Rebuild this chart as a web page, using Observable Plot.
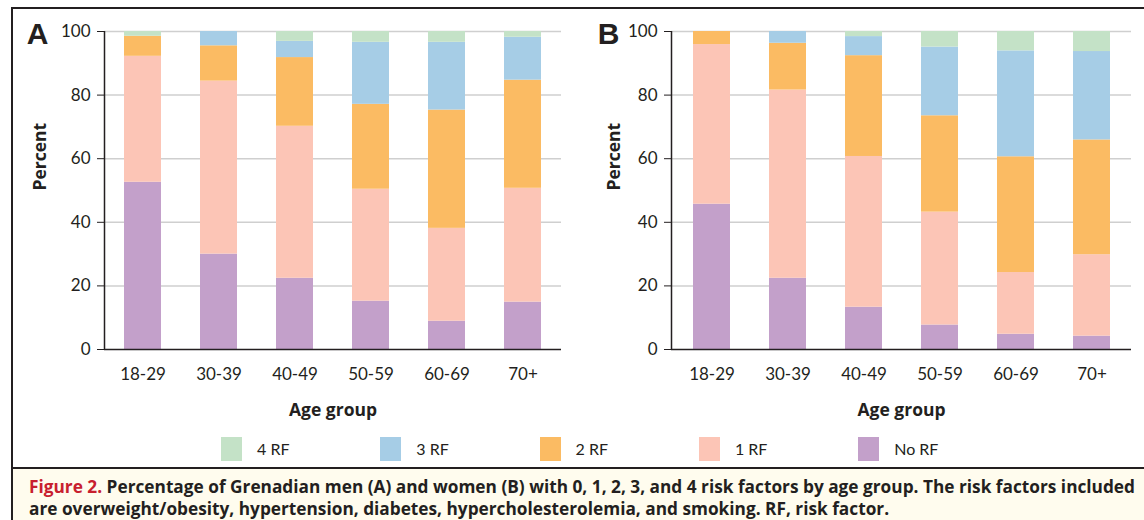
<!DOCTYPE html>
<html><head><meta charset="utf-8">
<script src="https://cdn.jsdelivr.net/npm/d3@7"></script>
<script src="https://cdn.jsdelivr.net/npm/@observablehq/plot@0.6"></script>
<style>
html,body{margin:0;padding:0;background:#fff;}
#fig{position:relative;width:1144px;height:520px;overflow:hidden;background:#fff;}
.abs{position:absolute;}
.hline{position:absolute;background:#231f20;}
#captionBg{position:absolute;left:13px;top:469px;width:1131px;height:51px;background:#fffcee;}
#caption{position:absolute;left:29px;top:475.5px;font-family:"Open Sans",sans-serif;font-weight:700;font-size:17px;line-height:22px;color:#231f20;white-space:nowrap;transform-origin:0 0;}
#caption .fig{color:#c8202f;}
.leg{position:absolute;top:437px;height:24px;font-family:Lato,sans-serif;font-size:16px;color:#231f20;}
.leg .sw{position:absolute;left:0;top:0;width:21px;height:24px;}
.leg .lb{position:absolute;left:36px;top:0;line-height:24px;white-space:nowrap;}
</style></head><body>
<div id="fig">
  <div id="captionBg"></div>
  <div id="panelA" class="abs" style="left:0;top:0"></div>
  <div id="panelB" class="abs" style="left:567px;top:0"></div>
  <div id="legend"></div>
  <div id="caption"><span id="cap1"><span class="fig">Figure 2.</span> Percentage of Grenadian men (A) and women (B) with 0, 1, 2, 3, and 4 risk factors by age group. The risk factors included</span><br><span id="cap2">are overweight/obesity, hypertension, diabetes, hypercholesterolemia, and smoking. RF, risk factor.</span></div>
  <div class="hline" style="left:11px;top:7px;width:1133px;height:2px"></div>
  <div class="hline" style="left:11px;top:7px;width:2px;height:513px"></div>
  <div class="hline" style="left:11px;top:466.5px;width:1133px;height:2.5px"></div>
</div>
<script>
const ages = ["18-29", "30-39", "40-49", "50-59", "60-69", "70+"];
const legendCats = ["4 RF", "3 RF", "2 RF", "1 RF", "No RF"];
const stackOrder = ["No RF", "1 RF", "2 RF", "3 RF", "4 RF"];
const catColors = ["#c4e2c7", "#a6cde6", "#fbbb63", "#fcc5b6", "#c3a0ca"];

// Panel A: men (percent)
const menNoRF = [52.6, 30.0, 22.4, 15.2, 8.9, 14.9];
const men1RF  = [39.6, 54.4, 47.8, 35.2, 29.2, 35.8];
const men2RF  = [6.3, 11.1, 21.6, 26.7, 37.2, 34.0];
const men3RF  = [0, 4.5, 5.1, 19.5, 21.3, 13.5];
const men4RF  = [1.5, 0, 3.1, 3.4, 3.4, 1.8];

// Panel B: women (percent)
const womenNoRF = [45.7, 22.4, 13.3, 7.7, 4.8, 4.2];
const women1RF  = [50.2, 59.2, 47.4, 35.5, 19.4, 25.6];
const women2RF  = [4.1, 14.7, 31.7, 30.3, 36.4, 36.1];
const women3RF  = [0, 3.7, 6.0, 21.6, 33.3, 27.8];
const women4RF  = [0, 0, 1.6, 4.9, 6.1, 6.3];

const yTicks = [0, 20, 40, 60, 80, 100];

function toRows(series) {
  const rows = [];
  stackOrder.forEach((rf, k) => series[k].forEach((v, i) => rows.push({age: ages[i], rf, value: v})));
  return rows;
}

function panel(letter, series, opts) {
  const {width, marginRight, letterDx, percentDx} = opts;
  const ml = 104, mt = 31, mb = 81, H = 430;
  const frameW = width - ml - marginRight;
  const dark = "#231f20";
  return Plot.plot({
    width, height: H, marginLeft: ml, marginRight, marginTop: mt, marginBottom: mb,
    style: {fontFamily: "Lato, sans-serif", fontSize: "17px", color: dark, background: "transparent", overflow: "visible"},
    x: {domain: ages, paddingInner: 0.515, paddingOuter: 0.26, label: null},
    y: {domain: [0, 100], label: null},
    color: {domain: legendCats, range: catColors},
    marks: [
      Plot.gridY({ticks: [20, 40, 60, 80, 100], stroke: "#cfcfcf", strokeOpacity: 1, strokeWidth: 1.5}),
      Plot.barY(toRows(series), {x: "age", y: "value", fill: "rf", order: stackOrder}),
      Plot.ruleY([0], {stroke: dark, strokeWidth: 1.5}),
      Plot.ruleX([0], {x: null, dx: -frameW / 2, stroke: dark, strokeWidth: 1.5}),
      Plot.axisY({ticks: yTicks, tickSize: 7, tickPadding: 7, fontSize: 17, label: null, stroke: dark}),
      Plot.axisX({tickSize: 0, tickPadding: 18, fontSize: 17, label: null}),
      Plot.text(["Percent"], {text: d => d, frameAnchor: "left", dx: percentDx, rotate: -90, fontWeight: "bold", fontFamily: "Open Sans, sans-serif", fontSize: 17.5, fill: dark}),
      Plot.text(["Age group"], {text: d => d, frameAnchor: "bottom", dy: 61, lineAnchor: "middle", fontWeight: "bold", fontFamily: "Open Sans, sans-serif", fontSize: 17.5, fill: dark}),
      Plot.text([letter], {text: d => d, frameAnchor: "top-left", dx: letterDx, dy: 3, lineAnchor: "middle", textAnchor: "middle", fontWeight: "bold", fontFamily: "Liberation Sans, Arial, sans-serif", fontSize: 30, fill: dark})
    ]
  });
}

document.getElementById("panelA").appendChild(panel("A", [menNoRF, men1RF, men2RF, men3RF, men4RF], {width: 580, marginRight: 19, letterDx: -67, percentDx: -64}));
document.getElementById("panelB").appendChild(panel("B", [womenNoRF, women1RF, women2RF, women3RF, women4RF], {width: 577, marginRight: 13, letterDx: -63, percentDx: -57}));

// Legend
const legend = document.getElementById("legend");
legendCats.forEach((c, i) => {
  const d = document.createElement("div");
  d.className = "leg";
  d.style.left = (221 + i * 159.3) + "px";
  d.innerHTML = `<div class="sw" style="background:${catColors[i]}"></div><div class="lb">${c}</div>`;
  legend.appendChild(d);
});

// Caption: condense horizontally so the first line spans the reference width
function fitCaption() {
  const cap = document.getElementById("caption");
  cap.style.transform = "none";
  const w = document.getElementById("cap1").getBoundingClientRect().width;
  if (w > 0) cap.style.transform = `scaleX(${1106 / w})`;
}
fitCaption();
if (document.fonts && document.fonts.ready) document.fonts.ready.then(fitCaption);
</script>
</body></html>
